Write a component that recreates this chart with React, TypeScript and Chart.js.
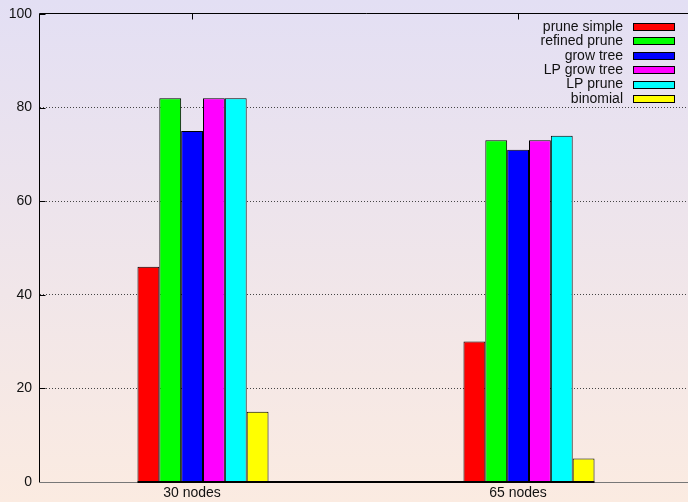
import React, { useEffect, useRef } from "react";
import { Chart, registerables } from "chart.js";

Chart.register(...registerables);

const categories = ["30 nodes", "65 nodes"];
const seriesNames = ["prune simple", "refined prune", "grow tree", "LP grow tree", "LP prune", "binomial"];
const pruneSimple = [46, 30];
const refinedPrune = [82, 73];
const growTree = [75, 71];
const lpGrowTree = [82, 73];
const lpPrune = [82, 74];
const binomial = [15, 5];
const seriesColors = ["#ff0000", "#00ff00", "#0000ff", "#ff00ff", "#00ffff", "#ffff00"];
const yTicks = [0, 20, 40, 60, 80, 100];

const FONT = "'Liberation Sans', Arial, Helvetica, sans-serif";

const gnuplotPlugin = {
  id: "gnuplotDecor",
  beforeDraw(chart: any) {
    const { ctx, width, height } = chart;
    const g = ctx.createLinearGradient(0, 0, 0, height);
    g.addColorStop(0, "#e3dff4");
    g.addColorStop(1, "#fbebe1");
    ctx.save();
    ctx.fillStyle = g;
    ctx.fillRect(0, 0, width, height);
    ctx.restore();
  },
  afterDraw(chart: any) {
    const { ctx, chartArea } = chart;
    const { left, right, top, bottom } = chartArea;
    const L = Math.round(left) - 0.5;
    const T = Math.round(top) - 0.5;
    ctx.save();
    ctx.strokeStyle = "#000";
    ctx.lineWidth = 1;
    ctx.beginPath();
    ctx.moveTo(L, Math.round(bottom));
    ctx.lineTo(L, T);
    ctx.lineTo(right + 2, T);
    ctx.stroke();
    const ys = chart.scales.y;
    yTicks.forEach((v) => {
      const py = Math.round(ys.getPixelForValue(v)) + 0.5;
      ctx.beginPath();
      ctx.moveTo(L, py);
      ctx.lineTo(L + 6, py);
      ctx.stroke();
    });
    const xs = chart.scales.x;
    categories.forEach((_, i) => {
      const px = Math.round(xs.getPixelForTick(i) - 11) + 0.5;
      ctx.beginPath();
      ctx.moveTo(px, T);
      ctx.lineTo(px, T + 6);
      ctx.stroke();
    });
    ctx.strokeStyle = "#777";
    ctx.beginPath();
    ctx.moveTo(L, Math.round(bottom) + 0.5);
    ctx.lineTo(right + 2, Math.round(bottom) + 0.5);
    ctx.stroke();
    const first = chart.getDatasetMeta(0).data[0] as any;
    const lastMeta = chart.getDatasetMeta(chart.data.datasets.length - 1);
    const last = lastMeta.data[lastMeta.data.length - 1] as any;
    ctx.strokeStyle = "#000";
    ctx.lineWidth = 2;
    ctx.beginPath();
    ctx.moveTo(first.x - first.width / 2, Math.round(bottom));
    ctx.lineTo(last.x + last.width / 2, Math.round(bottom));
    ctx.stroke();
    ctx.font = "14px " + FONT;
    ctx.textAlign = "right";
    ctx.textBaseline = "middle";
    const textRight = right - 69;
    seriesNames.forEach((name, i) => {
      const cy = top + 13 + i * 14.4;
      ctx.fillStyle = "#111";
      ctx.fillText(name, textRight, cy);
      const bx = Math.round(textRight + 10) + 0.5;
      const by = Math.round(cy - 4) + 0.5;
      ctx.fillStyle = seriesColors[i];
      ctx.fillRect(bx, by, 41, 7);
      ctx.strokeStyle = "#000";
      ctx.lineWidth = 1;
      ctx.strokeRect(bx, by, 41, 7);
    });
    ctx.restore();
  },
};

export default function App() {
  const ref = useRef<HTMLCanvasElement | null>(null);
  useEffect(() => {
    if (!ref.current) return;
    const values = [pruneSimple, refinedPrune, growTree, lpGrowTree, lpPrune, binomial];
    const chart = new Chart(ref.current, {
      type: "bar",
      data: {
        labels: categories,
        datasets: seriesNames.map((name, i) => ({
          label: name,
          data: values[i],
          backgroundColor: seriesColors[i],
          borderColor: "#000",
          borderWidth: 1,
          barPercentage: 1,
          categoryPercentage: 0.402,
        })),
      },
      options: {
        animation: false,
        responsive: false,
        devicePixelRatio: 1,
        layout: { padding: { left: 0, right: 0, top: 14, bottom: 0 } },
        plugins: { legend: { display: false }, tooltip: { enabled: false } },
        scales: {
          x: {
            type: "category",
            grid: { display: false, drawTicks: false },
            border: { display: false },
            ticks: {
              font: { family: FONT, size: 14 },
              color: "#111",
              padding: 3,
              labelOffset: -11,
              maxRotation: 0,
            },
            afterFit: (s: any) => {
              s.height = 20;
              s.paddingLeft = 0;
              s.paddingRight = 0;
            },
          },
          y: {
            min: 0,
            max: 100,
            ticks: {
              stepSize: 20,
              font: { family: FONT, size: 14 },
              color: "#111",
              padding: 8,
            },
            grid: {
              drawTicks: false,
              color: (c: any) =>
                c.tick && (c.tick.value === 0 || c.tick.value === 100) ? "rgba(0,0,0,0)" : "#444",
              lineWidth: 1,
            },
            border: { display: false, dash: [1, 2] },
            afterFit: (s: any) => {
              s.width = 40;
              s.paddingTop = 0;
              s.paddingBottom = 0;
            },
          },
        },
      },
      plugins: [gnuplotPlugin],
    });
    return () => chart.destroy();
  }, []);
  return (
    <div style={{ position: "fixed", left: 0, top: 0, width: 688, height: 502, overflow: "hidden" }}>
      <canvas ref={ref} width={692} height={502} style={{ width: 692, height: 502, display: "block" }} />
    </div>
  );
}
